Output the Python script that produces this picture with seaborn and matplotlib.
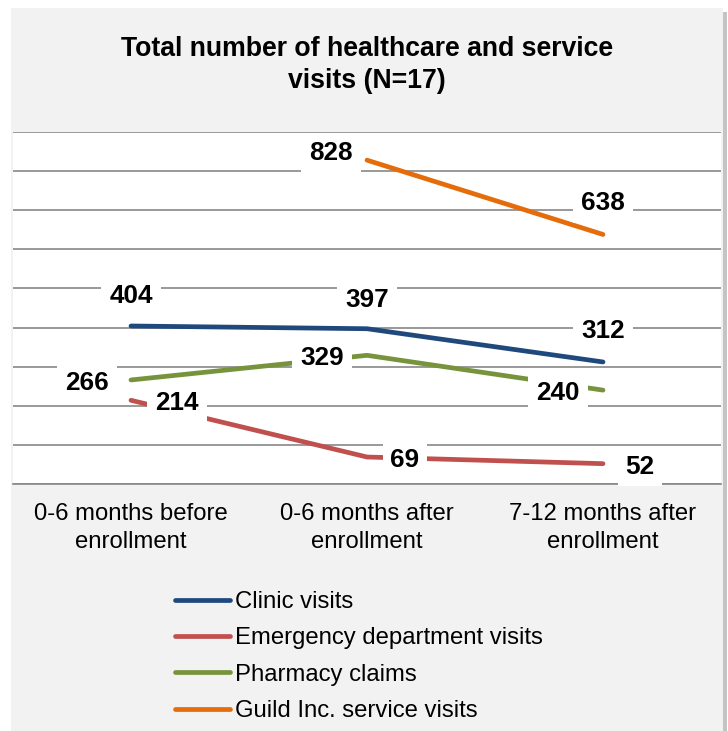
import numpy as np
import pandas as pd
import matplotlib
matplotlib.use("Agg")
import matplotlib.pyplot as plt
from matplotlib.patches import Rectangle
import seaborn as sns

# ---- data ----
categories = ["0-6 months before\nenrollment", "0-6 months after\nenrollment", "7-12 months after\nenrollment"]
series_names = ["Clinic visits", "Emergency department visits", "Pharmacy claims", "Guild Inc. service visits"]
clinic = [404, 397, 312]
emergency = [214, 69, 52]
pharmacy = [266, 329, 240]
guild = [np.nan, 828, 638]
colors = ["#1F497D", "#C0504D", "#77933C", "#E46C0A"]

values = [clinic, emergency, pharmacy, guild]
rows = []
for name, vals in zip(series_names, values):
    for i, v in enumerate(vals):
        rows.append({"x": i, "value": v, "series": name})
df = pd.DataFrame(rows)

sns.set_theme(style="white")
plt.rcParams["font.family"] = ["Liberation Sans", "DejaVu Sans"]
plt.rcParams["text.color"] = "black"
plt.rcParams["xtick.color"] = "black"

W, H = 728, 731
fig = plt.figure(figsize=(W / 100, H / 100), dpi=100)
fig.patch.set_facecolor("white")

# outer gray panel with shadow
fig.patches.append(Rectangle((723 / W, 0), 4 / W, (731 - 12) / H, transform=fig.transFigure,
                             facecolor="#C4C4C4", edgecolor="none", zorder=-2))
fig.patches.append(Rectangle((11 / W, 0), 712 / W, (731 - 8) / H, transform=fig.transFigure,
                             facecolor="#F2F2F2", edgecolor="none", zorder=-1))

ax = fig.add_axes([13 / W, (H - 484) / H, (721 - 13) / W, (484 - 132) / H])
ax.set_facecolor("white")

sns.lineplot(data=df, x="x", y="value", hue="series", hue_order=series_names,
             palette=colors, estimator=None, sort=False, linewidth=3.4,
             solid_capstyle="round", ax=ax, legend=False, zorder=3)

ax.set_xlim(-0.5, 2.5)
ax.set_ylim(0, 900)
ax.set_yticks(np.arange(0, 901, 100))
ax.yaxis.grid(True, color="#888888", linewidth=1.2)
ax.set_axisbelow(True)
ax.tick_params(axis="y", left=False, labelleft=False)
ax.set_ylabel("")
ax.set_xlabel("")
for s in ["top", "right", "left"]:
    ax.spines[s].set_visible(False)
ax.spines["bottom"].set_color("#888888")
ax.spines["bottom"].set_linewidth(1.2)

ax.set_xticks(range(len(categories)))
ax.set_xticklabels(categories, fontsize=17.2, color="black", linespacing=1.33)
ax.tick_params(axis="x", which="major", length=0, pad=14)
ax.set_xticks([-0.5, 0.5, 1.5, 2.5], minor=True)
ax.tick_params(axis="x", which="minor", length=4, width=1.2, color="#888888", direction="out")

# data labels: offsets in pixels
offsets = {
    "Clinic visits": [(0, 30), (0, 29), (0, 31)],
    "Emergency department visits": [(46, -3), (38, -3), (37, -3)],
    "Pharmacy claims": [(-44, -3), (-45, -3), (-45, -3)],
    "Guild Inc. service visits": [(0, 0), (-36, 7), (0, 31)],
}
for name, vals in zip(series_names, values):
    for i, v in enumerate(vals):
        if np.isnan(v):
            continue
        dx, dy = offsets[name][i]
        ax.annotate(f"{int(v)}", xy=(i, v), xytext=(dx * 0.72, dy * 0.72),
                    textcoords="offset points", ha="center", va="center",
                    fontsize=18.8, fontweight="bold", color="black", zorder=5,
                    bbox=dict(boxstyle="square,pad=0.3", facecolor="white", edgecolor="none"))

# title
fig.text(367 / W, 1 - 64.5 / H, "Total number of healthcare and service\nvisits (N=17)",
         ha="center", va="center", fontsize=19.2, fontweight="bold", linespacing=1.3,
         color="black")

# legend
handles = [plt.Line2D([0], [0], color=c, linewidth=3.4, solid_capstyle="round") for c in colors]
leg = fig.legend(handles, series_names, loc="upper left", bbox_to_anchor=(175 / W, 1 - 591 / H),
                 frameon=False, fontsize=17.2, handlelength=2.3, handletextpad=0.2,
                 labelspacing=0.6, borderpad=0, borderaxespad=0)
for t in leg.get_texts():
    t.set_color("black")

fig.savefig("out.png", dpi=100, facecolor="white")
